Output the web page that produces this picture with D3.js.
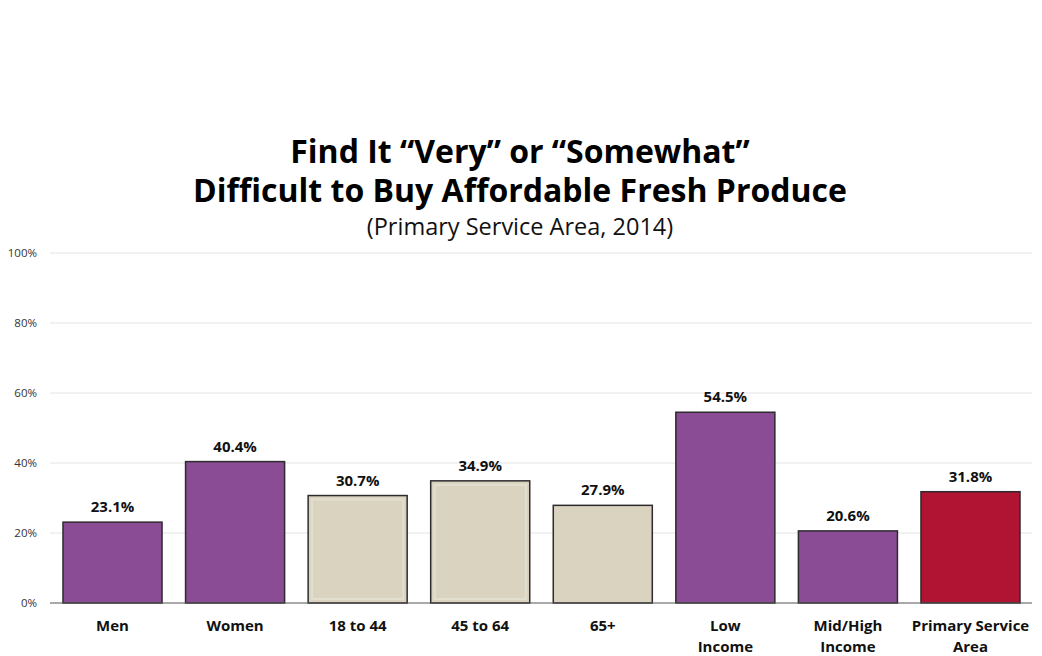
<!DOCTYPE html>
<html><head><meta charset="utf-8">
<script src="https://cdn.jsdelivr.net/npm/d3@7"></script>
<style>body{margin:0;background:#fff;}svg{display:block;font-family:"Open Sans","Noto Sans",sans-serif;}</style>
</head><body><svg id="c" width="1042" height="656"></svg>
<script>
const categories = [["Men"],["Women"],["18 to 44"],["45 to 64"],["65+"],["Low","Income"],["Mid/High","Income"],["Primary Service","Area"]];
const values = [23.1, 40.4, 30.7, 34.9, 27.9, 54.5, 20.6, 31.8];
const groups = ["sex","sex","age","age","age","income","income","total"];
const yTicks = [0, 20, 40, 60, 80, 100];
const titleLines = ["Find It \u201cVery\u201d or \u201cSomewhat\u201d", "Difficult to Buy Affordable Fresh Produce"];
const subtitle = "(Primary Service Area, 2014)";

const colors = {sex:"#8b4c96", income:"#8b4c96", age:"#d9d3bf", total:"#b01432"};
const svg = d3.select("#c");
const x = d3.scaleBand().domain(d3.range(values.length)).range([50,1033]).paddingInner(0.192).paddingOuter(0.106);
const y = d3.scaleLinear().domain([0,100]).range([603,253]);

// grid
svg.append("g").selectAll("line").data(yTicks.filter(d=>d>0)).join("line")
  .attr("x1",50).attr("x2",1032).attr("y1",d=>y(d)).attr("y2",d=>y(d))
  .attr("stroke","#e4e4e4").attr("stroke-width",1);
svg.append("g").selectAll("text").data(yTicks).join("text")
  .attr("x",37).attr("y",d=>y(d)+4).attr("text-anchor","end")
  .attr("font-size",11.5).attr("fill","#333").text(d=>d+"%");

// bars
const bars = svg.append("g");
bars.selectAll("rect").data(values).join("rect")
  .attr("x",(d,i)=>x(i)).attr("width",x.bandwidth())
  .attr("y",d=>y(d)).attr("height",d=>y(0)-y(d))
  .attr("fill",(d,i)=>colors[groups[i]]).attr("stroke","#2e2a2e").attr("stroke-width",1.5);
// inner highlight on age bars
bars.selectAll("rect.in").data(values.map((v,i)=>[v,i]).filter(d=>groups[d[1]]==="age" && d[1]<4)).join("rect")
  .attr("class","in")
  .attr("x",d=>x(d[1])+4).attr("width",x.bandwidth()-8)
  .attr("y",d=>y(d[0])+4).attr("height",d=>y(0)-y(d[0])-8)
  .attr("fill","none").attr("stroke","#e6e4d6").attr("stroke-width",2).attr("opacity",0.7);

// baseline
svg.append("line").attr("x1",50).attr("x2",1032).attr("y1",y(0)).attr("y2",y(0)).attr("stroke","#555").attr("stroke-width",1.2);

// value labels
svg.append("g").selectAll("text").data(values).join("text")
  .attr("x",(d,i)=>x(i)+x.bandwidth()/2).attr("y",d=>y(d)-10)
  .attr("text-anchor","middle").attr("font-size",15).attr("font-weight","bold").attr("fill","#111")
  .text(d=>d.toFixed(1)+"%");

// category labels
const cl = svg.append("g").selectAll("text").data(categories).join("text")
  .attr("x",(d,i)=>x(i)+x.bandwidth()/2).attr("y",631)
  .attr("text-anchor","middle").attr("font-size",15).attr("font-weight","bold").attr("fill","#111");
cl.selectAll("tspan").data(d=>d).join("tspan")
  .attr("x",function(){return this.parentNode.getAttribute("x");})
  .attr("dy",(d,i)=>i?21:0).text(d=>d);

// titles
svg.append("g").selectAll("text").data(titleLines).join("text")
  .attr("x",520).attr("y",(d,i)=>163+i*39).attr("text-anchor","middle")
  .attr("font-size",32).attr("font-weight","bold").attr("fill","#000").text(d=>d);
svg.append("text").attr("x",520).attr("y",235).attr("text-anchor","middle")
  .attr("font-size",23.5).attr("fill","#111").text(subtitle);
</script></body></html>
